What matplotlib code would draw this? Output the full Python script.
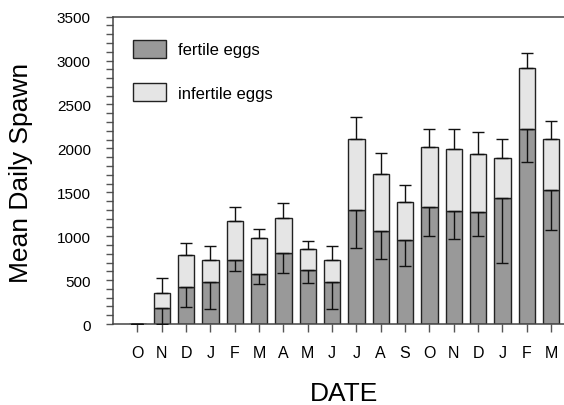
import numpy as np
import matplotlib.pyplot as plt
from matplotlib.ticker import MultipleLocator

plt.rcParams['font.family'] = ['Liberation Sans', 'DejaVu Sans']

months = ["O", "N", "D", "J", "F", "M", "A", "M", "J",
          "J", "A", "S", "O", "N", "D", "J", "F", "M"]
fertile = [0, 179, 419, 476, 731, 571, 810, 613, 476,
           1294, 1058, 959, 1332, 1286, 1271, 1431, 2226, 1526]
total = [0, 350, 791, 734, 1168, 974, 1206, 856, 734,
         2112, 1705, 1393, 2017, 1990, 1941, 1891, 2918, 2108]
fertile_err = [0, 179, 221, 305, 130, 118, 232, 149, 305,
               430, 316, 301, 331, 316, 266, 739, 381, 461]
total_err = [0, 175, 137, 153, 168, 107, 171, 91, 153,
             247, 243, 190, 209, 232, 243, 213, 172, 202]

fertile = np.array(fertile)
total = np.array(total)
infertile = total - fertile
x = np.arange(len(months))
zeros = np.zeros(len(months))

fig = plt.figure(figsize=(5.64, 4.06), dpi=100)
ax = fig.add_axes([0.2004, 0.1995, 0.7996, 0.757])

edge = "#222222"
ax.bar(x, fertile, width=0.67, color="#999999", edgecolor=edge,
       linewidth=1.0, label="fertile eggs", zorder=2)
ax.bar(x, infertile, width=0.67, bottom=fertile, color="#e5e5e5",
       edgecolor=edge, linewidth=1.0, label="infertile eggs", zorder=2)

# downward bars on the fertile part, upward bars on the total
ax.errorbar(x, fertile, yerr=[fertile_err, zeros], fmt="none",
            ecolor="#111111", elinewidth=1.0, capsize=4, capthick=1.0, zorder=3)
ax.errorbar(x, total, yerr=[zeros, total_err], fmt="none",
            ecolor="#111111", elinewidth=1.0, capsize=4, capthick=1.0, zorder=3)

ax.set_xlim(-1, 17.53)
ax.set_ylim(0, 3500)
ax.set_xticks(x)
ax.set_xticklabels(months)
ax.yaxis.set_major_locator(MultipleLocator(500))
ax.yaxis.set_minor_locator(MultipleLocator(100))

ax.tick_params(axis="both", which="both", direction="out", color="#555555",
               width=1.0)
ax.tick_params(axis="x", length=6, pad=9, labelsize=11.5)
ax.tick_params(axis="y", which="major", length=5, pad=11, labelsize=11)
ax.tick_params(axis="y", which="minor", length=5)

ax.spines["right"].set_visible(False)
for s in ["left", "bottom", "top"]:
    ax.spines[s].set_color("#444444")
    ax.spines[s].set_linewidth(1.1)

ax.set_ylabel("Mean Daily Spawn", fontsize=19)
ax.yaxis.set_label_coords(-0.177, 0.495)
ax.set_xlabel("DATE", fontsize=19)
ax.xaxis.set_label_coords(0.512, -0.185)

ax.legend(loc="upper left", bbox_to_anchor=(0.044, 0.925), frameon=False,
          fontsize=12, handlelength=2.0, handleheight=1.31,
          handletextpad=0.69, labelspacing=1.5, borderpad=0,
          borderaxespad=0)

fig.savefig("out.png", dpi=100)
